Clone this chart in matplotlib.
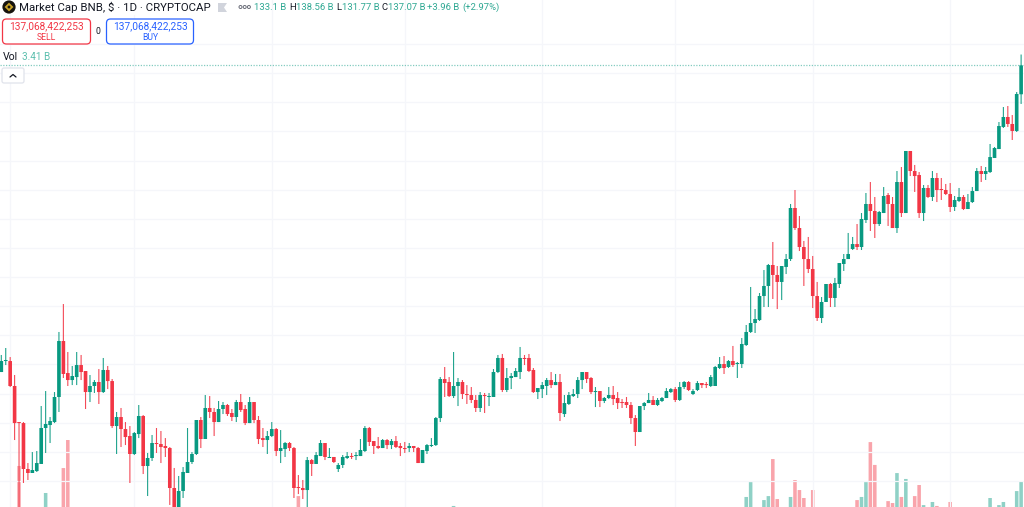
import matplotlib
matplotlib.use("Agg")
import matplotlib.pyplot as plt
from matplotlib.patches import Circle, FancyBboxPatch, Polygon, Rectangle

# Daily BNB market cap candles, in billions of dollars
opens = [
    94.95, 96.46, 96.46, 93.03, 88.08, 87.94, 81.63, 81.08, 81.35, 82.32,
    87.26, 87.67, 88.08, 91.52, 99.21, 94.81, 93.85, 94.26, 95.91, 95.09,
    92.20, 93.03, 93.58, 92.20, 95.23, 93.71, 87.53, 88.77, 87.12, 86.16,
    83.69, 86.43, 88.91, 82.04, 83.14, 85.20, 85.06, 84.79, 84.51, 79.02,
    76.00, 78.61, 81.08, 82.59, 83.69, 88.36, 85.75, 90.01, 89.46, 88.08,
    89.87, 90.42, 89.32, 88.77, 90.83, 89.87, 87.94, 90.83, 88.36, 85.88,
    85.61, 86.16, 87.12, 84.10, 84.37, 85.20, 84.51, 79.16, 79.02, 78.74,
    82.86, 82.32, 83.41, 85.20, 83.14, 83.28, 81.63, 82.18, 83.14, 83.41,
    83.41, 83.41, 84.10, 87.26, 85.47, 84.79, 84.51, 85.61, 84.92, 85.47,
    84.79, 84.51, 84.51, 84.79, 84.51, 82.45, 84.10, 84.79, 84.92, 88.63,
    93.99, 93.58, 91.65, 93.03, 93.58, 91.93, 91.79, 91.11, 90.01, 91.79,
    91.52, 91.52, 94.95, 96.88, 92.48, 94.13, 94.26, 94.95, 96.88, 96.88,
    95.23, 92.20, 92.61, 93.03, 93.85, 93.16, 93.58, 89.18, 90.56, 91.65,
    91.93, 93.85, 94.95, 94.13, 92.20, 92.34, 90.97, 91.38, 91.79, 91.38,
    90.83, 90.83, 90.42, 88.63, 86.71, 90.28, 90.69, 91.11, 90.42, 90.97,
    91.38, 92.20, 92.61, 91.11, 92.89, 93.58, 91.93, 92.48, 93.44, 93.30,
    93.03, 93.03, 95.50, 96.05, 95.64, 96.46, 96.05, 96.05, 98.66, 100.45,
    101.68, 102.09, 105.39, 106.77, 109.65, 108.28, 107.32, 109.38, 110.47, 117.48,
    114.73, 112.12, 110.47, 109.10, 105.39, 102.37, 104.57, 107.04, 105.12, 107.04,
    109.79, 110.47, 111.85, 112.53, 112.12, 115.83, 118.03, 117.07, 115.28, 116.79,
    119.26, 118.03, 114.73, 121.05, 116.79, 125.31, 122.56, 122.01, 116.79, 120.23,
    118.99, 121.60, 120.09, 119.95, 119.40, 117.62, 118.44, 118.99, 117.34, 118.30,
    119.81, 122.56, 122.15, 122.42, 124.35, 125.58, 128.61, 129.98, 129.02, 128.06,
    133.10,
]
highs = [
    97.29, 98.25, 97.01, 94.54, 88.08, 88.08, 82.45, 83.96, 84.10, 90.28,
    92.34, 88.77, 92.20, 100.45, 104.29, 97.70, 95.78, 97.70, 97.29, 95.09,
    94.54, 93.85, 95.36, 96.88, 95.78, 93.99, 89.46, 90.01, 88.08, 87.53,
    86.71, 90.42, 89.04, 83.83, 86.30, 87.26, 86.85, 85.88, 84.65, 81.77,
    80.67, 81.90, 87.26, 83.96, 88.36, 88.77, 91.79, 91.65, 90.01, 90.97,
    90.83, 90.56, 89.87, 91.11, 91.93, 90.42, 91.52, 90.83, 88.91, 87.26,
    86.85, 88.08, 87.26, 86.98, 85.34, 85.34, 84.65, 80.80, 80.12, 83.28,
    83.00, 83.96, 85.61, 85.20, 84.51, 83.28, 82.45, 83.55, 83.96, 83.83,
    83.96, 85.75, 87.53, 87.40, 85.47, 86.02, 85.75, 85.75, 85.75, 86.16,
    85.20, 85.34, 85.20, 84.79, 84.65, 84.24, 85.06, 85.88, 88.77, 94.26,
    95.64, 94.26, 97.70, 94.13, 93.85, 93.16, 92.89, 91.79, 92.20, 92.07,
    92.07, 95.36, 97.29, 97.43, 95.50, 94.81, 95.50, 98.39, 97.29, 97.43,
    95.50, 92.75, 93.58, 94.13, 94.95, 94.68, 94.68, 91.79, 92.20, 92.61,
    94.26, 94.95, 94.95, 94.26, 92.89, 92.34, 91.52, 92.89, 93.03, 92.20,
    91.24, 91.52, 90.83, 89.04, 90.28, 90.83, 92.07, 91.65, 91.38, 91.52,
    92.75, 92.75, 92.89, 93.58, 93.71, 93.71, 92.61, 93.71, 93.44, 93.58,
    94.54, 95.78, 97.01, 97.15, 96.60, 98.53, 96.33, 99.62, 101.41, 106.63,
    103.60, 105.80, 108.96, 109.79, 112.81, 109.51, 109.51, 111.16, 118.03, 119.95,
    116.38, 112.95, 113.50, 110.89, 107.32, 105.25, 107.04, 107.18, 107.87, 109.92,
    111.16, 114.05, 113.50, 115.28, 116.79, 119.54, 121.05, 118.99, 117.07, 120.36,
    119.54, 118.99, 122.56, 123.11, 125.31, 125.31, 123.39, 122.42, 120.64, 120.64,
    122.56, 122.29, 121.60, 120.78, 120.91, 119.13, 120.23, 119.26, 119.40, 120.36,
    122.97, 123.25, 123.11, 126.27, 125.86, 129.29, 131.35, 131.49, 130.25, 133.41,
    138.56,
]
lows = [
    94.95, 95.91, 92.89, 85.61, 74.62, 79.71, 80.12, 81.08, 81.22, 82.32,
    83.83, 85.20, 87.94, 89.46, 94.13, 93.03, 93.16, 93.16, 93.85, 89.87,
    90.83, 92.07, 90.56, 92.07, 92.61, 87.26, 83.69, 84.65, 84.92, 79.71,
    83.55, 85.88, 80.94, 77.92, 82.73, 83.83, 82.45, 83.28, 76.69, 75.31,
    75.31, 77.65, 81.08, 82.32, 83.55, 84.51, 85.75, 88.63, 86.16, 88.08,
    89.18, 88.91, 88.22, 88.08, 89.46, 87.67, 87.94, 87.94, 85.06, 84.65,
    83.69, 86.02, 83.41, 82.45, 83.28, 84.10, 77.65, 78.19, 77.51, 75.72,
    80.67, 82.32, 83.41, 82.86, 83.14, 82.45, 81.22, 81.77, 83.00, 83.00,
    82.86, 83.41, 83.96, 84.79, 83.69, 84.37, 84.51, 84.37, 84.37, 84.51,
    83.41, 83.83, 83.96, 83.96, 82.45, 82.45, 83.69, 84.65, 84.79, 88.08,
    91.52, 91.52, 91.38, 90.28, 91.24, 90.56, 90.69, 89.46, 89.46, 89.32,
    90.28, 91.52, 94.81, 92.20, 92.20, 92.61, 94.26, 93.99, 95.91, 94.95,
    92.07, 91.24, 91.38, 91.79, 92.75, 93.16, 88.22, 88.77, 90.42, 91.52,
    91.38, 92.61, 93.44, 91.93, 90.14, 90.14, 90.69, 91.24, 90.42, 89.87,
    90.01, 90.01, 87.81, 84.79, 86.71, 89.73, 90.69, 90.42, 90.28, 90.83,
    91.38, 92.07, 90.83, 90.97, 92.61, 92.34, 91.79, 92.34, 92.75, 92.75,
    92.89, 93.03, 95.36, 94.68, 95.50, 95.64, 94.13, 95.50, 98.53, 100.31,
    100.31, 101.96, 103.88, 103.88, 104.98, 103.60, 104.84, 108.41, 110.20, 114.46,
    111.57, 106.77, 108.55, 103.74, 101.96, 101.68, 104.57, 103.88, 103.88, 106.49,
    108.83, 110.47, 111.71, 111.71, 111.71, 115.42, 114.32, 113.36, 115.01, 116.79,
    115.01, 114.73, 114.05, 116.24, 116.79, 121.87, 119.68, 116.11, 115.69, 118.85,
    118.44, 118.30, 118.58, 119.26, 116.93, 117.07, 118.30, 117.20, 117.34, 118.17,
    119.81, 121.05, 121.33, 122.29, 124.35, 125.58, 128.47, 128.61, 126.82, 127.92,
    131.77,
]
closes = [
    96.46, 96.60, 93.03, 87.94, 87.94, 81.63, 81.08, 81.49, 82.45, 87.26,
    87.81, 88.22, 91.52, 99.21, 94.68, 93.85, 94.40, 95.91, 94.95, 92.20,
    93.03, 93.58, 92.20, 95.23, 93.71, 87.53, 88.77, 87.12, 86.02, 83.69,
    86.57, 88.91, 82.04, 83.14, 85.20, 85.06, 84.65, 84.51, 79.02, 76.00,
    78.61, 81.22, 82.59, 83.69, 88.36, 85.75, 90.01, 89.46, 88.08, 89.87,
    90.42, 89.18, 88.77, 90.83, 89.73, 87.94, 90.83, 88.36, 85.75, 85.61,
    86.16, 87.12, 84.10, 84.51, 85.20, 84.51, 79.02, 79.02, 78.74, 82.86,
    82.32, 83.55, 85.20, 83.28, 83.28, 82.59, 82.18, 83.28, 83.41, 83.28,
    83.55, 84.24, 87.26, 85.34, 84.79, 84.51, 85.61, 84.92, 85.47, 84.65,
    84.51, 84.37, 84.79, 84.51, 82.45, 84.24, 84.92, 84.92, 88.63, 93.99,
    93.44, 91.65, 93.03, 93.58, 91.93, 91.79, 91.11, 90.01, 91.79, 91.65,
    91.65, 94.95, 96.88, 92.48, 94.13, 94.40, 95.09, 96.88, 96.74, 95.09,
    92.20, 92.75, 93.16, 93.85, 93.16, 93.58, 89.32, 90.69, 91.79, 91.93,
    93.85, 94.95, 93.99, 92.20, 92.34, 90.97, 91.38, 91.79, 91.24, 90.69,
    90.69, 90.42, 88.63, 86.71, 90.28, 90.69, 91.11, 90.42, 91.11, 91.38,
    92.34, 92.61, 91.11, 92.89, 93.58, 92.48, 92.34, 93.44, 93.16, 93.16,
    94.26, 95.64, 96.05, 95.50, 96.46, 95.91, 96.19, 98.80, 100.45, 101.68,
    102.23, 105.39, 106.77, 109.65, 108.28, 107.32, 109.51, 110.47, 117.48, 114.73,
    112.12, 110.47, 109.10, 105.39, 102.37, 104.57, 107.04, 105.12, 107.18, 109.92,
    110.47, 111.16, 112.53, 112.12, 115.97, 118.03, 117.07, 115.28, 116.93, 119.13,
    118.03, 114.73, 121.05, 116.79, 125.31, 122.56, 121.87, 116.79, 120.23, 118.99,
    121.60, 119.95, 119.95, 119.40, 117.62, 118.58, 118.99, 117.34, 118.30, 119.81,
    122.56, 122.15, 122.56, 124.48, 125.72, 128.74, 129.98, 129.02, 128.06, 133.14,
    137.07,
]

# Volume (billions) for the sessions tall enough to show above the bottom edge
volume_days = [4, 10, 14, 15, 67, 102, 168, 169, 172, 173, 174, 175, 178, 179, 180, 181,
               183, 193, 194, 195, 196, 197, 200, 201, 202, 203, 204, 206, 207, 208,
               210, 211, 214, 223, 225, 226, 229, 230]
volume_values = [4.28, 2.72, 4.16, 5.78, 2.54, 1.97, 2.49, 3.35, 2.31, 2.54, 4.68, 2.37,
                 2.49, 3.47, 2.89, 2.43, 2.89, 2.31, 2.49, 3.35, 5.66, 4.34, 2.25, 2.14,
                 3.87, 2.49, 3.53, 2.54, 3.18, 2.02, 2.20, 1.97, 2.20, 2.43, 2.02, 2.20,
                 2.83, 3.41]

month_starts = [2, 30, 61, 91, 122, 152, 183, 214]
price_grid = [140, 136, 132, 128, 124, 120, 116, 112, 108, 104, 100, 96, 92, 88, 84, 80]

UP = "#089981"
DOWN = "#F23645"
GRID = "#F5F6FA"
plt.rcParams["font.family"] = ["Roboto", "DejaVu Sans"]

fig = plt.figure(figsize=(10.24, 5.07), dpi=100, facecolor="white")

# Price pane fills the whole canvas; volume shares it on a second scale
ax = fig.add_axes([0, 0, 1, 1])
ax.set_xlim(-0.293, 230.65)
ax.set_ylim(76.41, 146.05)
ax.axis("off")
for x in month_starts:
    ax.axvline(x, color=GRID, lw=0.9, zorder=1)
for y in price_grid:
    ax.axhline(y, color=GRID, lw=0.9, zorder=1)

vol_ax = fig.add_axes([0, 0, 1, 1], sharex=ax)
vol_ax.set_ylim(1.91, 31.2)
vol_ax.axis("off")
vol_ax.patch.set_alpha(0)
vol_colors = [UP if closes[d] >= opens[d] else DOWN for d in volume_days]
vol_bars = vol_ax.bar(volume_days, volume_values, width=0.8, bottom=0, color=vol_colors,
                      alpha=0.45, linewidth=0, zorder=2)
for bar in vol_bars:
    bar.set_snap(False)

# Candles sit above the volume columns
ax.set_zorder(vol_ax.get_zorder() + 1)
ax.patch.set_alpha(0)
days = list(range(len(closes)))
candle_colors = [UP if c >= o else DOWN for o, c in zip(opens, closes)]
wicks = ax.vlines(days, lows, highs, colors=candle_colors, lw=0.8, alpha=0.9, zorder=3)
wicks.set_snap(False)
bottoms = [min(o, c) for o, c in zip(opens, closes)]
heights = [max(abs(c - o), 0.14) for o, c in zip(opens, closes)]
bodies = ax.bar(days, heights, width=0.82, bottom=bottoms, color=candle_colors, linewidth=0, zorder=4)
for body in bodies:
    body.set_snap(False)
ax.axhline(closes[-1], color=UP, lw=0.9, ls=(0, (1, 1.2)), alpha=0.5, zorder=2)

# Legend and trading widgets, laid out in canvas pixels
ui = fig.add_axes([0, 0, 1, 1])
ui.set_xlim(0, 1024)
ui.set_ylim(507, 0)
ui.axis("off")
ui.patch.set_alpha(0)
ui.set_zorder(ax.get_zorder() + 1)

ui.add_patch(Rectangle((0, 0), 254, 15, color="white", alpha=0.92, lw=0))
ui.add_patch(Circle((9, 7), 6.6, color="#16130d", lw=0))
ui.add_patch(Polygon([(9, 2.6), (13.4, 7), (9, 11.4), (4.6, 7)], closed=True, fc="#c9a227", ec="none"))
ui.add_patch(Polygon([(9, 5.2), (10.8, 7), (9, 8.8), (7.2, 7)], closed=True, fc="#16130d", ec="none"))
ui.text(19, 7.5, "Market Cap BNB, $ · 1D · CRYPTOCAP", fontsize=8.2, color="#131722",
        va="center", ha="left")
ui.add_patch(Polygon([(218, 3), (227, 3), (224, 7.5), (227, 12), (218, 12)], closed=True,
                     fc="#d1d4dc", ec="none"))
for cx in (240.5, 244.7, 248.9):
    ui.add_patch(Circle((cx, 7), 1.5, fc="white", ec="#6a6d78", lw=0.7))


def legend_text(x, text, color):
    ui.text(x, 7.5, text, fontsize=6.8, color=color, va="center", ha="left")


TEAL = "#2FA893"
legend_text(254, "133.1 B", TEAL)
legend_text(289, "H", "#131722")
legend_text(296, "138.56 B", TEAL)
legend_text(336, "L", "#131722")
legend_text(342, "131.77 B", TEAL)
legend_text(381, "C", "#131722")
legend_text(388, "137.07 B", TEAL)
legend_text(427, "+3.96 B", TEAL)
legend_text(462, "(+2.97%)", TEAL)


def order_button(x0, x1, edge, price, label):
    ui.add_patch(FancyBboxPatch((x0 + 3, 22), x1 - x0 - 6, 19,
                                boxstyle="round,pad=3,rounding_size=4",
                                fc="white", ec=edge, lw=0.9))
    mid = (x0 + x1) / 2
    ui.text(mid, 26.5, price, fontsize=7.3, color=edge, ha="center", va="center")
    ui.text(mid, 37, label, fontsize=6.2, color=edge, ha="center", va="center")


order_button(2.5, 90.5, DOWN, "137,068,422,253", "SELL")
order_button(106.5, 193.5, "#2962FF", "137,068,422,253", "BUY")
ui.text(98, 31.5, "0", fontsize=6.2, color="#131722", ha="center", va="center")

ui.text(3, 56.5, "Vol", fontsize=7.6, color="#131722", ha="left", va="center")
ui.text(22, 56.5, "3.41 B", fontsize=7.2, color="#5CBFAE", ha="left", va="center")

ui.add_patch(FancyBboxPatch((4, 70), 18, 11, boxstyle="round,pad=2,rounding_size=2",
                            fc="white", ec="#E0E3EB", lw=0.9))
ui.plot([10, 13, 16], [77, 74.5, 77], color="#131722", lw=0.9, solid_capstyle="round")

fig.savefig("out.png", dpi=100, facecolor="white")
